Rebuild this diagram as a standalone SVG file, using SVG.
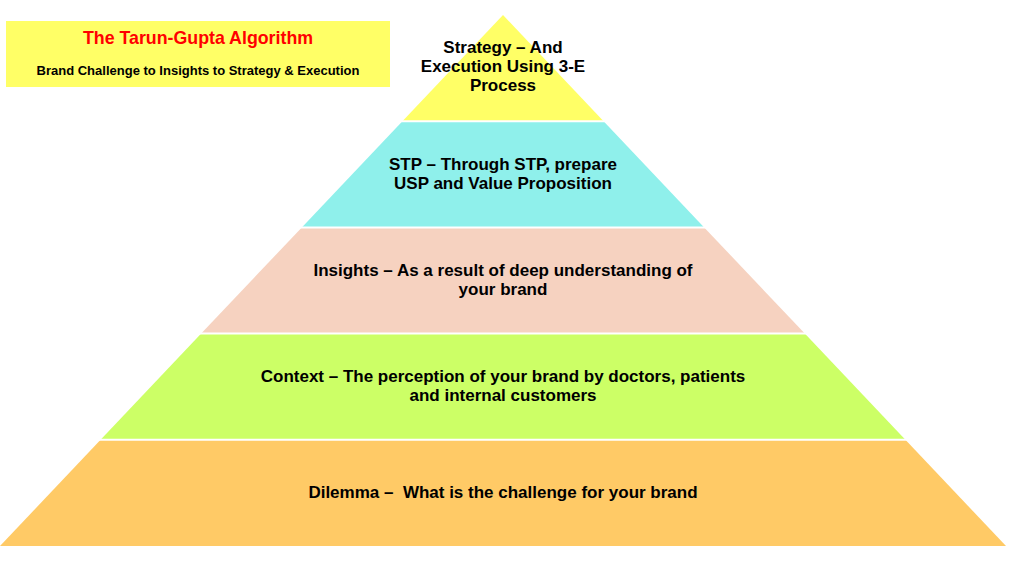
<svg xmlns="http://www.w3.org/2000/svg" width="1024" height="576" viewBox="0 0 1024 576">
<style>
.t{font-family:"Liberation Sans",Arial,sans-serif;font-weight:bold;fill:#000;text-anchor:middle}
.p{font-size:17px}
.sep{stroke:#fff;stroke-width:2}
</style>
<rect x="0" y="0" width="1024" height="576" fill="#fff"/>
<g id="title-box">
<rect x="6" y="21" width="384" height="66" fill="#FFFF66"/>
<text class="t" x="198" y="44" font-size="17.8" style="fill:#FF0000">The Tarun-Gupta Algorithm</text>
<text class="t" x="198" y="75" font-size="13">Brand Challenge to Insights to Strategy &amp; Execution</text>
</g>
<g id="level-dilemma">
<polygon points="100.6,439.8 905.4,439.8 1006,546 0,546" fill="#FFCA66"/>
<text class="t p" x="503" y="498" xml:space="preserve">Dilemma –  What is the challenge for your brand</text>
</g>
<g id="level-context">
<polygon points="201.2,333.6 804.8,333.6 905.4,439.8 100.6,439.8" fill="#CCFF66"/>
<text class="t p" x="503" y="382">Context – The perception of your brand by doctors, patients</text>
<text class="t p" x="503" y="401">and internal customers</text>
</g>
<g id="level-insights">
<polygon points="301.8,227.4 704.2,227.4 804.8,333.6 201.2,333.6" fill="#F6D2C0"/>
<text class="t p" x="503" y="276">Insights – As a result of deep understanding of</text>
<text class="t p" x="503" y="295">your brand</text>
</g>
<g id="level-stp">
<polygon points="402.4,121.2 603.6,121.2 704.2,227.4 301.8,227.4" fill="#8FF0EB"/>
<text class="t p" x="503" y="170">STP – Through STP, prepare</text>
<text class="t p" x="503" y="189">USP and Value Proposition</text>
</g>
<g id="level-strategy">
<polygon points="503,15 603.6,121.2 402.4,121.2" fill="#FFFF66"/>
<text class="t p" x="503" y="53">Strategy – And</text>
<text class="t p" x="503" y="72">Execution Using 3-E</text>
<text class="t p" x="503" y="91">Process</text>
</g>
<g id="separators">
<line class="sep" x1="0" y1="121.2" x2="1024" y2="121.2"/>
<line class="sep" x1="0" y1="227.4" x2="1024" y2="227.4"/>
<line class="sep" x1="0" y1="333.6" x2="1024" y2="333.6"/>
<line class="sep" x1="0" y1="439.8" x2="1024" y2="439.8"/>
</g>
</svg>
